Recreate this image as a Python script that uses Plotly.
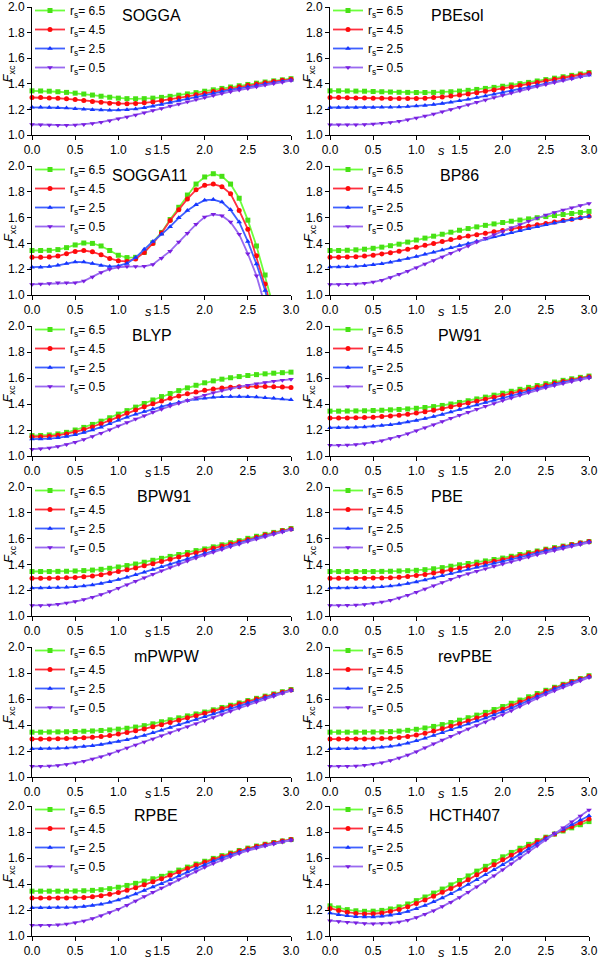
import plotly.graph_objects as go
from plotly.subplots import make_subplots

S = [0.0, 0.1, 0.2, 0.3, 0.4, 0.5, 0.6, 0.7, 0.8, 0.9, 1.0, 1.1, 1.2, 1.3, 1.4, 1.5,
     1.6, 1.7, 1.8, 1.9, 2.0, 2.1, 2.2, 2.3, 2.4, 2.5, 2.6, 2.7, 2.8, 2.9, 3.0]

RS_LABELS = ["r<sub>s</sub>= 6.5", "r<sub>s</sub>= 4.5", "r<sub>s</sub>= 2.5", "r<sub>s</sub>= 0.5"]

FUNCTIONALS = ["SOGGA", "PBEsol", "SOGGA11", "BP86", "BLYP", "PW91",
               "BPW91", "PBE", "mPWPW", "revPBE", "RPBE", "HCTH407"]

# each: [rs=6.5, rs=4.5, rs=2.5, rs=0.5]
SOGGA = [
    [1.345,1.344,1.342,1.338,1.333,1.327,1.320,1.312,1.303,1.295,1.288,1.284,1.283,1.284,1.288,1.294,1.302,1.311,1.321,1.331,1.342,1.353,1.364,1.375,1.385,1.395,1.405,1.414,1.423,1.431,1.440],
    [1.293,1.292,1.290,1.287,1.283,1.277,1.270,1.262,1.255,1.249,1.246,1.245,1.247,1.251,1.258,1.267,1.278,1.290,1.302,1.314,1.327,1.340,1.353,1.365,1.377,1.388,1.398,1.408,1.418,1.427,1.435],
    [1.216,1.216,1.215,1.213,1.210,1.206,1.202,1.198,1.195,1.194,1.195,1.198,1.204,1.213,1.225,1.239,1.254,1.269,1.284,1.298,1.312,1.326,1.339,1.352,1.364,1.376,1.387,1.398,1.408,1.418,1.428],
    [1.082,1.080,1.078,1.077,1.077,1.079,1.083,1.090,1.100,1.112,1.126,1.141,1.157,1.174,1.191,1.208,1.226,1.243,1.260,1.277,1.293,1.309,1.324,1.338,1.351,1.364,1.377,1.390,1.402,1.413,1.425],
]
PBESOL = [
    [1.345,1.345,1.344,1.343,1.342,1.340,1.338,1.336,1.334,1.333,1.332,1.332,1.333,1.335,1.338,1.343,1.349,1.356,1.364,1.372,1.381,1.391,1.401,1.411,1.422,1.433,1.444,1.455,1.466,1.477,1.488],
    [1.292,1.292,1.291,1.290,1.289,1.288,1.287,1.286,1.285,1.285,1.286,1.288,1.292,1.297,1.304,1.312,1.321,1.331,1.341,1.352,1.364,1.375,1.387,1.399,1.411,1.423,1.435,1.447,1.459,1.470,1.482],
    [1.215,1.215,1.215,1.215,1.215,1.215,1.216,1.217,1.219,1.222,1.226,1.231,1.238,1.246,1.256,1.267,1.279,1.292,1.305,1.318,1.332,1.346,1.360,1.374,1.388,1.402,1.416,1.429,1.442,1.455,1.468],
    [1.080,1.080,1.080,1.081,1.083,1.086,1.091,1.098,1.107,1.119,1.133,1.148,1.164,1.181,1.199,1.217,1.236,1.255,1.274,1.292,1.310,1.328,1.345,1.362,1.378,1.394,1.410,1.425,1.440,1.455,1.470],
]
SOGGA11 = [
    [1.345,1.345,1.346,1.352,1.367,1.388,1.403,1.400,1.380,1.345,1.308,1.290,1.292,1.330,1.405,1.485,1.585,1.680,1.775,1.860,1.915,1.940,1.920,1.860,1.750,1.580,1.380,1.155,0.900,0.600,0.250],
    [1.292,1.292,1.294,1.302,1.320,1.338,1.345,1.335,1.312,1.283,1.265,1.260,1.280,1.330,1.400,1.480,1.578,1.660,1.745,1.815,1.850,1.860,1.840,1.785,1.655,1.510,1.305,1.085,0.850,0.550,0.200],
    [1.216,1.216,1.220,1.230,1.245,1.256,1.255,1.244,1.228,1.220,1.225,1.245,1.290,1.355,1.415,1.470,1.530,1.598,1.655,1.700,1.735,1.740,1.720,1.660,1.565,1.415,1.240,1.035,0.820,0.550,0.200],
    [1.082,1.085,1.090,1.094,1.095,1.095,1.108,1.140,1.175,1.200,1.215,1.220,1.220,1.222,1.237,1.285,1.340,1.410,1.478,1.548,1.605,1.625,1.615,1.565,1.470,1.320,1.150,0.950,0.720,0.450,0.150],
]
BP86 = [
    [1.345,1.345,1.347,1.350,1.355,1.362,1.371,1.382,1.394,1.410,1.426,1.441,1.456,1.471,1.487,1.502,1.515,1.528,1.540,1.551,1.562,1.572,1.581,1.590,1.599,1.608,1.616,1.624,1.632,1.640,1.648],
    [1.292,1.292,1.294,1.297,1.302,1.309,1.318,1.328,1.340,1.355,1.370,1.385,1.400,1.415,1.430,1.445,1.457,1.468,1.479,1.490,1.500,1.511,1.522,1.533,1.544,1.555,1.566,1.577,1.588,1.599,1.610],
    [1.218,1.218,1.219,1.222,1.227,1.234,1.243,1.254,1.267,1.282,1.298,1.315,1.332,1.349,1.366,1.383,1.400,1.417,1.434,1.451,1.467,1.483,1.499,1.514,1.529,1.544,1.558,1.571,1.584,1.597,1.610],
    [1.082,1.082,1.083,1.086,1.091,1.100,1.115,1.136,1.160,1.185,1.212,1.240,1.268,1.295,1.323,1.350,1.380,1.410,1.440,1.468,1.495,1.521,1.547,1.572,1.596,1.620,1.640,1.659,1.677,1.694,1.710],
]
BLYP = [
    [1.157,1.158,1.162,1.170,1.182,1.200,1.220,1.243,1.268,1.294,1.322,1.349,1.376,1.404,1.431,1.457,1.481,1.503,1.524,1.544,1.563,1.578,1.591,1.602,1.611,1.619,1.626,1.632,1.637,1.641,1.645],
    [1.148,1.149,1.152,1.159,1.170,1.185,1.203,1.224,1.248,1.274,1.302,1.328,1.353,1.378,1.401,1.424,1.444,1.462,1.478,1.492,1.505,1.515,1.523,1.529,1.533,1.535,1.535,1.534,1.532,1.530,1.527],
    [1.130,1.131,1.134,1.140,1.150,1.163,1.180,1.200,1.222,1.248,1.275,1.299,1.321,1.342,1.362,1.380,1.398,1.413,1.426,1.437,1.445,1.451,1.455,1.457,1.457,1.456,1.453,1.449,1.444,1.438,1.432],
    [1.052,1.055,1.062,1.073,1.088,1.106,1.127,1.150,1.175,1.202,1.230,1.257,1.284,1.310,1.336,1.360,1.384,1.406,1.427,1.448,1.468,1.486,1.503,1.518,1.532,1.545,1.556,1.566,1.575,1.583,1.590],
]
PW91 = [
    [1.345,1.345,1.346,1.347,1.348,1.350,1.352,1.355,1.358,1.362,1.367,1.373,1.380,1.389,1.400,1.412,1.425,1.439,1.453,1.468,1.483,1.498,1.513,1.528,1.542,1.556,1.569,1.582,1.594,1.605,1.615],
    [1.292,1.292,1.293,1.294,1.296,1.299,1.303,1.308,1.314,1.321,1.330,1.340,1.351,1.364,1.378,1.393,1.407,1.421,1.436,1.451,1.466,1.482,1.498,1.514,1.530,1.545,1.559,1.573,1.586,1.598,1.610],
    [1.218,1.218,1.219,1.221,1.224,1.228,1.234,1.241,1.250,1.261,1.274,1.288,1.303,1.320,1.338,1.357,1.375,1.393,1.411,1.429,1.447,1.465,1.483,1.501,1.518,1.535,1.551,1.566,1.580,1.593,1.605],
    [1.082,1.082,1.084,1.088,1.095,1.105,1.118,1.134,1.152,1.172,1.194,1.217,1.241,1.265,1.290,1.314,1.337,1.360,1.382,1.404,1.426,1.447,1.468,1.488,1.507,1.525,1.542,1.558,1.573,1.587,1.600],
]
BPW91 = [
    [1.345,1.345,1.345,1.346,1.347,1.349,1.352,1.356,1.362,1.370,1.380,1.391,1.403,1.417,1.432,1.447,1.462,1.477,1.492,1.507,1.520,1.536,1.552,1.568,1.584,1.602,1.618,1.633,1.648,1.663,1.678],
    [1.292,1.292,1.293,1.294,1.296,1.299,1.304,1.311,1.320,1.331,1.344,1.358,1.373,1.389,1.406,1.423,1.440,1.457,1.474,1.491,1.508,1.525,1.542,1.559,1.576,1.593,1.610,1.627,1.644,1.660,1.675],
    [1.218,1.218,1.219,1.220,1.222,1.226,1.232,1.241,1.252,1.266,1.282,1.300,1.319,1.339,1.360,1.381,1.402,1.423,1.444,1.465,1.486,1.506,1.526,1.546,1.566,1.585,1.603,1.621,1.638,1.655,1.670],
    [1.082,1.082,1.085,1.091,1.100,1.112,1.127,1.145,1.166,1.190,1.215,1.242,1.269,1.296,1.323,1.350,1.376,1.401,1.426,1.450,1.473,1.495,1.516,1.537,1.557,1.577,1.596,1.615,1.634,1.652,1.670],
]
PBE = [
    [1.345,1.345,1.345,1.345,1.345,1.345,1.346,1.347,1.349,1.351,1.354,1.359,1.366,1.375,1.386,1.397,1.407,1.417,1.427,1.438,1.449,1.463,1.477,1.491,1.504,1.518,1.530,1.542,1.554,1.566,1.577],
    [1.292,1.292,1.292,1.292,1.293,1.294,1.295,1.297,1.300,1.306,1.313,1.322,1.333,1.345,1.358,1.372,1.385,1.398,1.411,1.424,1.437,1.453,1.468,1.483,1.498,1.513,1.526,1.539,1.552,1.565,1.577],
    [1.218,1.218,1.218,1.219,1.220,1.222,1.226,1.232,1.240,1.251,1.264,1.279,1.295,1.312,1.329,1.346,1.362,1.377,1.392,1.408,1.423,1.440,1.456,1.473,1.489,1.505,1.520,1.534,1.548,1.562,1.575],
    [1.082,1.082,1.083,1.085,1.090,1.097,1.108,1.122,1.140,1.161,1.185,1.210,1.235,1.260,1.284,1.308,1.328,1.347,1.366,1.385,1.403,1.421,1.439,1.457,1.475,1.492,1.508,1.524,1.540,1.555,1.570],
]
MPWPW = [
    [1.345,1.345,1.346,1.347,1.348,1.350,1.352,1.354,1.358,1.362,1.368,1.375,1.384,1.395,1.409,1.425,1.440,1.455,1.470,1.485,1.500,1.517,1.535,1.552,1.570,1.588,1.605,1.622,1.639,1.656,1.673],
    [1.292,1.292,1.293,1.294,1.296,1.298,1.301,1.305,1.311,1.319,1.330,1.342,1.355,1.370,1.386,1.402,1.419,1.437,1.455,1.472,1.490,1.508,1.527,1.545,1.564,1.582,1.600,1.618,1.635,1.652,1.670],
    [1.218,1.218,1.219,1.221,1.224,1.228,1.234,1.241,1.250,1.261,1.273,1.287,1.303,1.320,1.340,1.360,1.381,1.402,1.423,1.443,1.464,1.485,1.506,1.528,1.549,1.570,1.590,1.610,1.629,1.647,1.665],
    [1.082,1.082,1.084,1.089,1.097,1.108,1.122,1.138,1.156,1.177,1.200,1.223,1.246,1.270,1.293,1.317,1.340,1.363,1.387,1.410,1.433,1.457,1.481,1.506,1.530,1.554,1.577,1.600,1.622,1.644,1.665],
]
REVPBE = [
    [1.345,1.345,1.345,1.345,1.345,1.346,1.347,1.349,1.353,1.359,1.367,1.377,1.389,1.403,1.419,1.437,1.456,1.476,1.497,1.519,1.542,1.567,1.592,1.617,1.642,1.667,1.690,1.713,1.735,1.757,1.779],
    [1.292,1.292,1.292,1.292,1.293,1.294,1.296,1.299,1.304,1.312,1.323,1.337,1.353,1.371,1.390,1.410,1.431,1.453,1.475,1.498,1.522,1.549,1.576,1.603,1.631,1.659,1.684,1.708,1.731,1.754,1.775],
    [1.218,1.218,1.218,1.219,1.221,1.224,1.229,1.236,1.246,1.260,1.278,1.298,1.319,1.341,1.363,1.385,1.407,1.430,1.453,1.477,1.501,1.530,1.559,1.589,1.619,1.649,1.676,1.702,1.726,1.749,1.770],
    [1.082,1.082,1.083,1.085,1.090,1.098,1.110,1.126,1.146,1.169,1.195,1.225,1.255,1.285,1.314,1.343,1.370,1.397,1.424,1.451,1.478,1.510,1.542,1.574,1.605,1.636,1.663,1.690,1.716,1.741,1.766],
]
RPBE = [
    [1.345,1.345,1.345,1.345,1.345,1.346,1.348,1.351,1.356,1.364,1.375,1.389,1.405,1.422,1.440,1.459,1.483,1.507,1.530,1.553,1.575,1.597,1.618,1.638,1.658,1.676,1.692,1.706,1.719,1.731,1.742],
    [1.292,1.292,1.292,1.292,1.293,1.294,1.297,1.302,1.310,1.321,1.335,1.352,1.372,1.394,1.417,1.441,1.467,1.493,1.519,1.544,1.567,1.590,1.612,1.633,1.653,1.672,1.689,1.704,1.718,1.731,1.742],
    [1.218,1.218,1.218,1.219,1.220,1.222,1.227,1.234,1.245,1.259,1.277,1.299,1.324,1.350,1.376,1.402,1.432,1.462,1.492,1.521,1.549,1.576,1.601,1.624,1.645,1.664,1.681,1.697,1.712,1.725,1.738],
    [1.082,1.082,1.083,1.086,1.092,1.102,1.116,1.134,1.156,1.180,1.206,1.237,1.270,1.303,1.336,1.369,1.402,1.434,1.466,1.497,1.528,1.557,1.585,1.611,1.635,1.657,1.676,1.693,1.708,1.723,1.737],
]
HCTH407 = [
    [1.232,1.216,1.203,1.194,1.190,1.191,1.197,1.208,1.224,1.246,1.272,1.300,1.330,1.361,1.393,1.427,1.462,1.499,1.536,1.573,1.609,1.643,1.675,1.705,1.734,1.760,1.784,1.808,1.832,1.856,1.880],
    [1.212,1.196,1.183,1.174,1.170,1.171,1.177,1.188,1.204,1.225,1.250,1.277,1.306,1.336,1.366,1.397,1.433,1.471,1.509,1.548,1.586,1.622,1.657,1.691,1.724,1.755,1.785,1.814,1.843,1.872,1.900],
    [1.176,1.164,1.155,1.149,1.146,1.147,1.152,1.160,1.172,1.189,1.210,1.235,1.263,1.293,1.325,1.360,1.396,1.433,1.471,1.510,1.549,1.590,1.630,1.670,1.710,1.749,1.786,1.822,1.858,1.892,1.925],
    [1.118,1.112,1.106,1.101,1.097,1.095,1.096,1.100,1.108,1.122,1.142,1.167,1.195,1.226,1.260,1.297,1.337,1.378,1.420,1.464,1.509,1.555,1.601,1.648,1.694,1.740,1.786,1.832,1.878,1.924,1.970],
]

DATA = [SOGGA, PBESOL, SOGGA11, BP86, BLYP, PW91, BPW91, PBE, MPWPW, REVPBE, RPBE, HCTH407]

LINE_COLORS = ["#6CFF3C", "#FF3040", "#3F60FF", "#9A6AF0"]
MARKER_COLORS = ["#47E014", "#FF0A0A", "#1535FF", "#7A1FE0"]
SYMBOLS = ["square", "circle", "triangle-up", "triangle-down"]

W, H = 600, 959
ROW_TOP = [7, 166, 326, 487, 647, 806]
ROW_BOT = [135, 295, 456, 616, 777, 936]
COL_X = [(32, 291), (330, 589)]
YTITLE_X = [9, 309]
TITLE_X = [0.46, 0.49, 0.455, 0.50, 0.465, 0.50, 0.51, 0.45, 0.52, 0.52, 0.48, 0.52]

FONT = "Liberation Sans, Arial, sans-serif"


def px(v):
    return v / W


def py(v):
    return 1 - v / H


fig = make_subplots(rows=6, cols=2)

for k, (name, series) in enumerate(zip(FUNCTIONALS, DATA)):
    r, c = k // 2, k % 2
    leg = "legend" if k == 0 else f"legend{k+1}"
    for j in range(4):
        fig.add_trace(go.Scatter(
            x=S, y=series[j], mode="lines+markers", name=RS_LABELS[j],
            line=dict(color=LINE_COLORS[j], width=1.8),
            marker=dict(symbol=SYMBOLS[j], size=5, color=MARKER_COLORS[j]),
            cliponaxis=False, legend=leg, showlegend=True,
        ), row=r + 1, col=c + 1)

    x0, x1 = COL_X[c]
    t, b = ROW_TOP[r], ROW_BOT[r]
    ax = "" if k == 0 else str(k + 1)
    fig.layout["xaxis" + ax].update(
        domain=[px(x0), px(x1)], range=[0, 3], dtick=0.5, tick0=0, tickformat=".1f",
        showline=True, linecolor="black", linewidth=1, ticks="outside", ticklen=4,
        tickcolor="black", showgrid=False, zeroline=False, automargin=False,
        tickfont=dict(family=FONT, size=12, color="black"),
    )
    fig.layout["yaxis" + ax].update(
        domain=[py(b), py(t)], range=[1.0, 2.0], dtick=0.2, tick0=1.0, tickformat=".1f",
        showline=True, linecolor="black", linewidth=1, ticks="outside", ticklen=4,
        tickcolor="black", showgrid=False, zeroline=False, automargin=False,
        ticklabeloverflow="allow",
        tickfont=dict(family=FONT, size=12, color="black"),
    )
    fig.layout[leg] = dict(
        x=px(x0 - 2), y=py(t - 11), xanchor="left", yanchor="top",
        bgcolor="rgba(0,0,0,0)", borderwidth=0,
        font=dict(family=FONT, size=12, color="black"),
        itemwidth=30, tracegroupgap=0,
    )
    xd, yd = f"x{ax} domain", f"y{ax} domain"
    fig.add_annotation(text=name, xref=xd, yref=yd, x=TITLE_X[k], y=0.93,
                       xanchor="center", yanchor="middle", showarrow=False,
                       font=dict(family=FONT, size=16, color="black"))
    fig.add_annotation(text="<i>F</i><sub>xc</sub>", xref="paper", yref=yd,
                       x=px(YTITLE_X[c]), y=0.48, textangle=-90,
                       xanchor="center", yanchor="middle", showarrow=False,
                       font=dict(family=FONT, size=13, color="black"))
    fig.add_annotation(text="<i>s</i>", xref=xd, yref=yd,
                       x=0.45 if c == 0 else 0.43, y=-0.125,
                       xanchor="center", yanchor="middle", showarrow=False,
                       font=dict(family=FONT, size=13, color="black"))

fig.update_layout(
    width=W, height=H, margin=dict(l=0, r=0, t=0, b=0, autoexpand=False),
    paper_bgcolor="white", plot_bgcolor="white",
    font=dict(family=FONT, color="black"),
)

fig.write_html("out.html", config={"displayModeBar": False},
               post_script="document.body.style.margin='0px';")
